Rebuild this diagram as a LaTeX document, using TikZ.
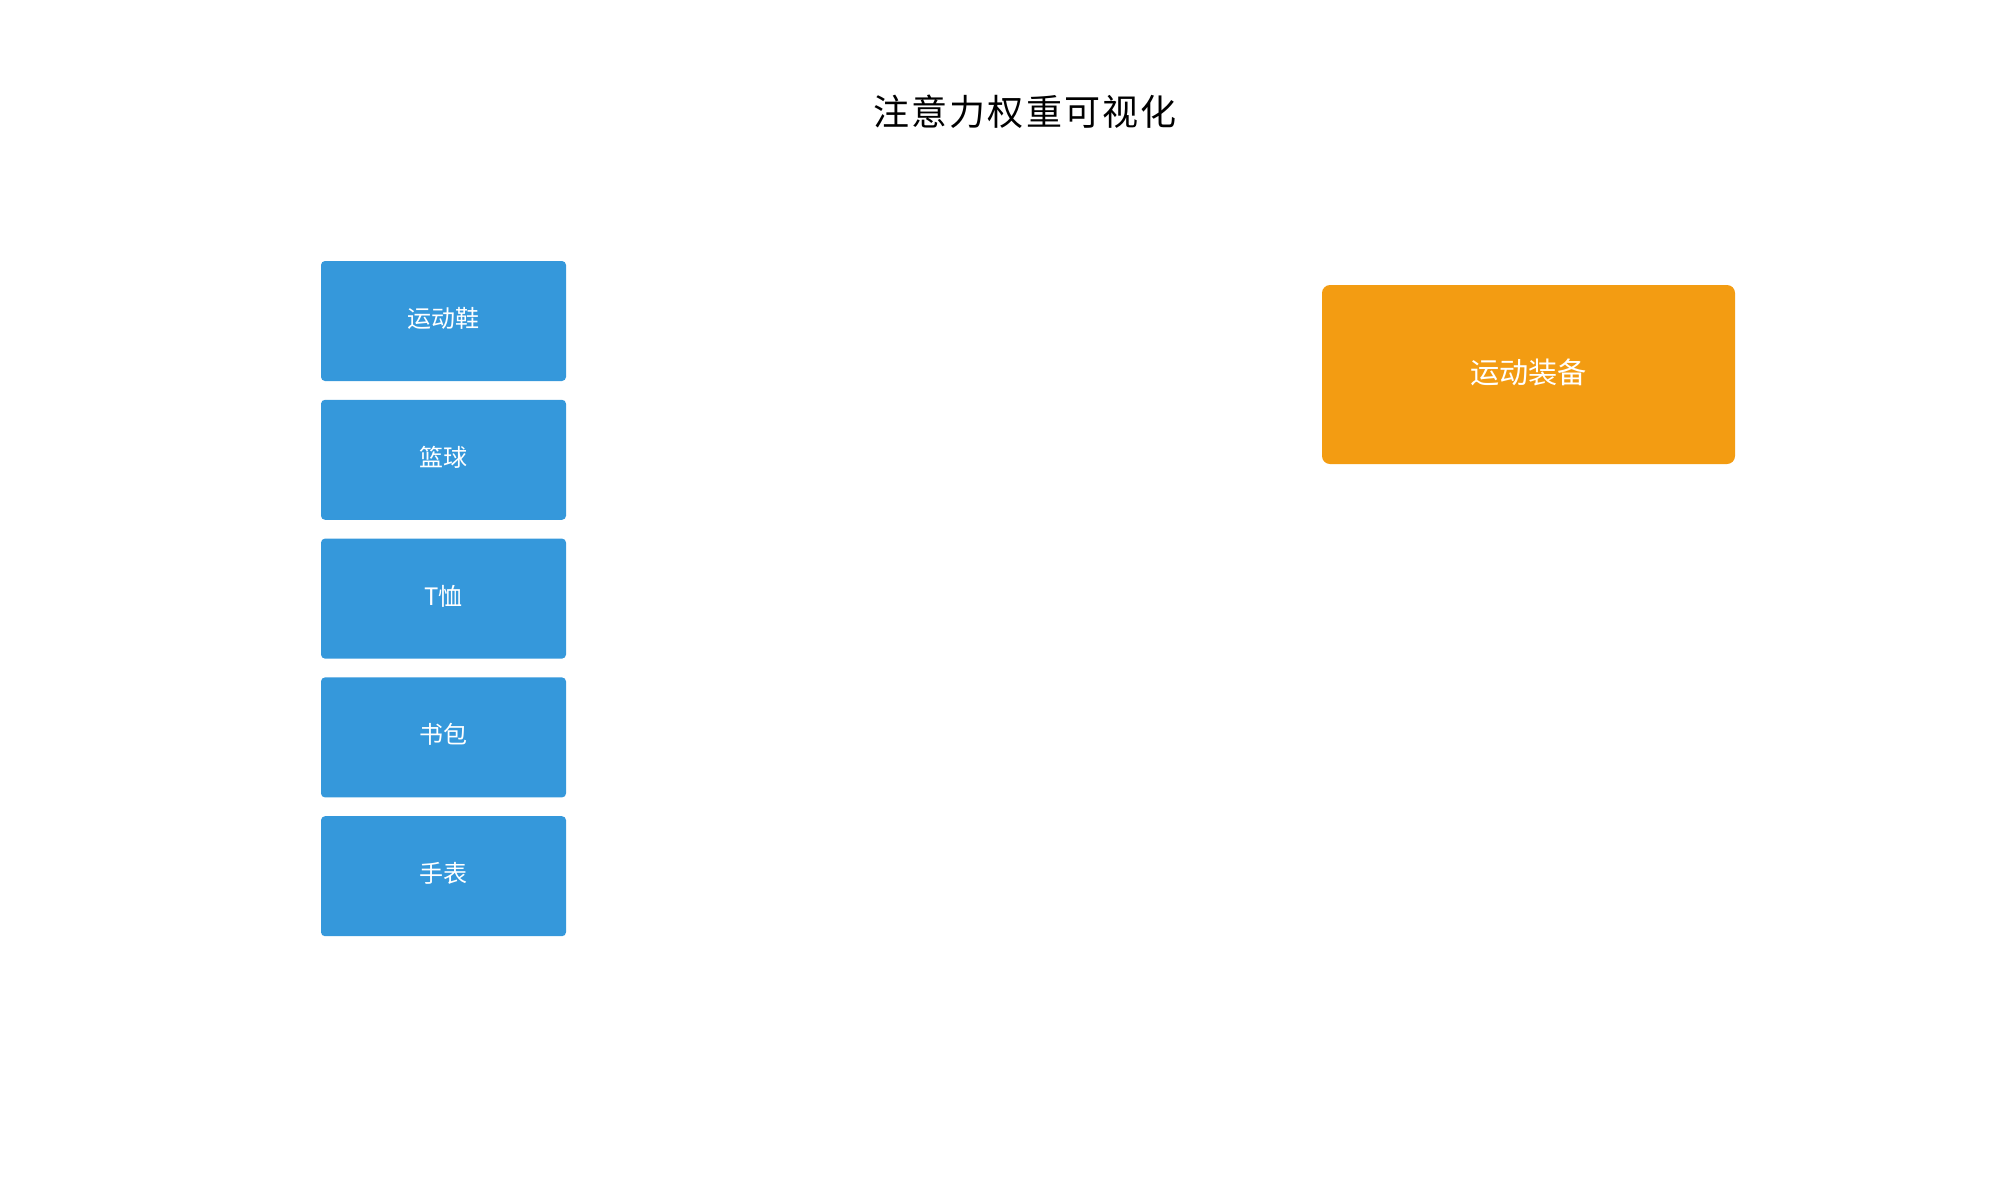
\documentclass[tikz,border=0pt]{standalone}
\usepackage{fontspec}
\setmainfont{Noto Sans CJK SC}
\usetikzlibrary{positioning}
\definecolor{itemblue}{HTML}{3598DB}
\definecolor{classorange}{HTML}{F39C12}
\begin{document}
\begin{tikzpicture}[x=0.5pt,y=-0.5pt,node distance=9pt,
    item/.style={fill=itemblue,rounded corners=2pt,minimum width=122.5pt,minimum height=60pt,inner sep=0pt,text=white,text height=10pt,text depth=3.5pt,font=\fontsize{12}{14}\selectfont},
    class/.style={fill=classorange,rounded corners=4pt,minimum width=206.5pt,minimum height=89.5pt,inner sep=0pt,text=white,text height=12pt,text depth=3.5pt,font=\fontsize{14.6}{17}\selectfont}]
    \useasboundingbox (0,0) rectangle (2000,1200);

    \node (title) at (1025,112) {\fontsize{18}{22}\selectfont\addfontfeatures{LetterSpace=6}注意力权重可视化};

    \node[item]  (0) at (443.5,321)      {运动鞋};
    \node[item]  (1) [below=of 0]        {篮球};
    \node[item]  (2) [below=of 1]        {T恤};
    \node[item]  (3) [below=of 2]        {书包};
    \node[item]  (4) [below=of 3]        {手表};

    \node[class] (5) at (1528.5,374.5)   {运动装备};
\end{tikzpicture}
\end{document}
